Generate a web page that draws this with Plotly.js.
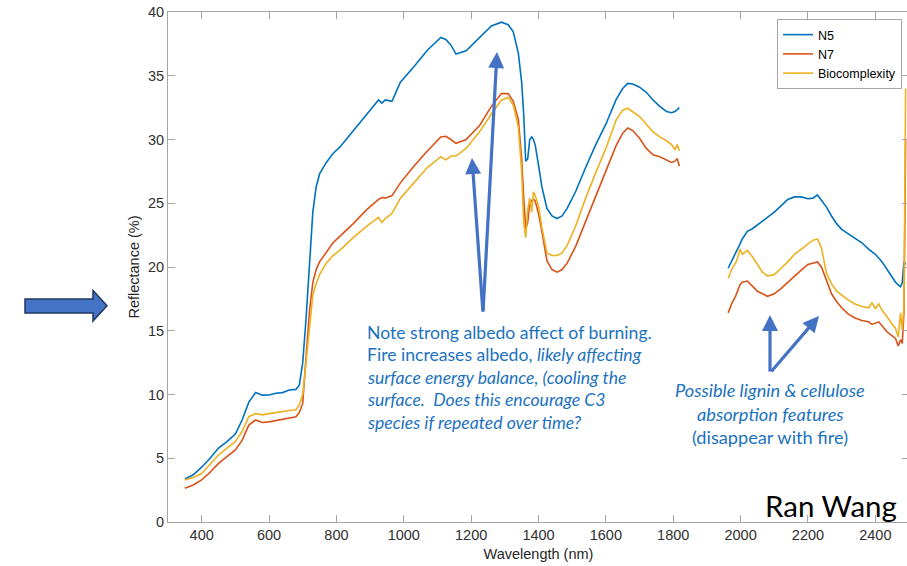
<!DOCTYPE html>
<html>
<head>
<meta charset="utf-8">
<script src="https://cdn.plot.ly/plotly-3.0.1.min.js"></script>
<style>
html,body{margin:0;padding:0;overflow:hidden;background:#fff;}
#chart{width:912px;height:566px;}
</style>
</head>
<body>
<div id="chart"></div>
<script>
const wavelength = [350,375,400,425,450,475,500,520,540,560,580,600,620,640,660,680,690,700,710,720,730,740,750,770,790,810,850,890,925,935,945,965,990,1030,1070,1110,1125,1140,1155,1185,1225,1260,1290,1310,1325,1340,1350,1356,1362,1368,1374,1380,1385,1390,1400,1410,1425,1440,1455,1470,1485,1510,1540,1570,1600,1630,1650,1665,1680,1700,1720,1740,1760,1780,1795,1805,1812,1818,1890,1963,1975,1985,1990,1998,2005,2020,2035,2050,2065,2080,2100,2120,2140,2160,2180,2200,2215,2228,2240,2255,2270,2285,2300,2320,2340,2360,2380,2390,2400,2410,2420,2435,2450,2460,2468,2475,2480,2485,2490];

const n5 = [3.37,3.7,4.3,5.0,5.8,6.3,6.9,8.0,9.4,10.15,9.95,9.96,10.1,10.15,10.35,10.4,10.75,12.5,16.0,20.3,24.3,26.3,27.3,28.2,28.9,29.4,30.7,32.05,33.1,32.85,33.1,33.0,34.5,35.7,37.0,38.0,37.85,37.4,36.7,36.96,37.96,38.9,39.2,39.0,38.45,36.8,34.5,32.0,28.3,28.5,30.0,30.2,30.0,29.6,28.0,26.3,24.6,24.0,23.8,24.0,24.6,25.9,27.8,29.6,31.2,33.1,34.0,34.4,34.35,34.1,33.7,33.1,32.6,32.2,32.1,32.2,32.35,32.5,null,19.9,20.6,21.1,21.4,21.8,22.2,22.8,23.0,23.3,23.6,23.9,24.3,24.8,25.3,25.5,25.5,25.35,25.4,25.65,25.2,24.7,24.0,23.4,22.95,22.6,22.2,21.9,21.4,21.2,21.0,20.7,20.4,19.8,19.2,18.8,18.6,18.45,18.8,20.4,20.2];

const n7 = [2.64,2.9,3.3,3.9,4.6,5.1,5.65,6.4,7.6,8.0,7.8,7.85,7.95,8.1,8.2,8.26,8.6,9.3,13.0,16.5,18.8,19.8,20.4,21.2,21.9,22.4,23.4,24.5,25.3,25.45,25.4,25.6,26.6,27.9,29.1,30.2,30.25,30.0,29.7,30.0,31.1,32.6,33.6,33.6,33.0,31.6,28.5,25.5,23.0,23.5,25.0,25.2,25.3,25.2,24.2,22.8,20.5,19.8,19.6,19.8,20.3,21.6,23.6,25.6,27.5,29.5,30.5,30.9,30.7,30.1,29.3,28.8,28.65,28.4,28.2,28.3,28.5,27.9,null,16.4,17.2,17.7,18.0,18.6,18.8,18.9,18.5,18.1,17.9,17.7,17.9,18.3,18.8,19.3,19.75,20.2,20.3,20.4,20.0,19.0,17.9,17.3,16.8,16.3,16.0,15.8,15.7,15.5,15.6,15.7,15.4,14.9,14.6,14.4,13.8,14.3,14.0,16.5,30.0];

const bio = [3.3,3.5,3.8,4.5,5.25,5.8,6.3,7.1,8.26,8.5,8.4,8.5,8.6,8.7,8.75,8.8,9.2,10.0,12.5,15.5,17.8,18.7,19.4,20.3,20.9,21.3,22.3,23.2,23.9,23.5,23.8,24.2,25.4,26.6,27.8,28.65,28.4,28.7,28.7,29.3,30.6,32.0,33.1,33.3,32.7,31.0,27.5,23.5,22.3,24.5,25.4,24.3,25.9,25.6,24.8,23.1,21.1,20.9,20.9,21.1,21.7,23.2,25.4,27.4,29.3,31.5,32.3,32.45,32.2,31.8,31.2,30.6,30.2,29.9,29.6,29.2,29.6,29.1,null,19.1,19.9,20.3,20.6,21.4,21.0,21.3,20.8,20.2,19.6,19.3,19.4,19.9,20.4,21.0,21.4,21.8,22.1,22.2,21.5,19.5,18.7,18.1,17.8,17.4,17.1,16.9,16.8,17.2,16.75,17.1,16.6,16.1,15.5,15.2,14.5,16.4,15.0,17.0,34.0];

const seriesNames = ['N5','N7','Biocomplexity'];
const seriesColors = ['#0072BD','#D95319','#EDB120'];
const xTicks = [400,600,800,1000,1200,1400,1600,1800,2000,2200,2400];
const yTicks = [0,5,10,15,20,25,30,35,40];

const noteLines = [
  'Note strong albedo affect of burning.',
  'Fire increases albedo, <i>likely affecting</i>',
  '<i>surface energy balance, (cooling the</i>',
  '<i>surface.  Does this encourage C3</i>',
  '<i>species if repeated over time?</i>'
];
const ligninLines = [
  '<i>Possible lignin &amp; cellulose</i>',
  '<i>absorption features</i>',
  '(disappear with fire)'
];

// pixel helpers for layout placement (plot area 168..909 x 12..522)
const L = 168, R = 909, T = 12, B = 522;
const px = v => (v - L) / (R - L);
const py = v => (B - v) / (B - T);

const traces = [n5, n7, bio].map((vals, i) => ({
  type: 'scatter', mode: 'lines', x: wavelength, y: vals,
  name: seriesNames[i], connectgaps: false,
  line: {color: seriesColors[i], width: 1.6}
}));

const fam = 'Lato, "Open Sans", sans-serif';
const annColor = '#1B72C0';
const annotations = [];
noteLines.forEach((t, i) => annotations.push({
  xref: 'paper', yref: 'paper', x: px(365), y: py(332 + i * 22.6),
  xanchor: 'left', yanchor: 'middle', text: t, showarrow: false,
  font: {family: fam, size: 17.6, color: annColor}
}));
ligninLines.forEach((t, i) => annotations.push({
  xref: 'paper', yref: 'paper', x: px(770), y: py(390 + i * 23.5),
  xanchor: 'center', yanchor: 'middle', text: t, showarrow: false,
  font: {family: fam, size: 18.2, color: annColor}
}));
annotations.push({
  xref: 'paper', yref: 'paper', x: px(831), y: py(505),
  xanchor: 'center', yanchor: 'middle', text: 'Ran Wang', showarrow: false,
  font: {family: fam, size: 29.5, color: '#000'}
});
// blue arrows
const arrowSpec = [
  {tip: [497, 52], tail: [483, 313]},
  {tip: [472, 158], tail: [483, 313]},
  {tip: [770, 315], tail: [770, 373]},
  {tip: [819, 316], tail: [770, 373]}
];
arrowSpec.forEach(a => annotations.push({
  xref: 'paper', yref: 'paper', x: px(a.tip[0]), y: py(a.tip[1]),
  ax: a.tail[0] - a.tip[0], ay: a.tail[1] - a.tip[1],
  text: '', showarrow: true, arrowhead: 2, arrowsize: 1, arrowwidth: 3.2,
  arrowcolor: '#4472C4'
}));

const arrowPts = [[25,299],[93,299],[93,290.5],[107,305.7],[93,321],[93,313],[25,313]];
const pathStr = arrowPts.map((p, i) => (i ? 'L' : 'M') + px(p[0]).toFixed(5) + ',' + py(p[1]).toFixed(5)).join(' ') + ' Z';

const axisCommon = {
  showline: true, linecolor: '#a6a6a6', linewidth: 1, mirror: 'ticks',
  ticks: 'inside', ticklen: 7, tickcolor: '#a6a6a6', tickwidth: 1,
  showgrid: false, zeroline: false,
  tickfont: {family: '"Liberation Sans", Arial, sans-serif', size: 14.5, color: '#303030'}
};

const layout = {
  width: 912, height: 566,
  margin: {l: L, r: 912 - R, t: T, b: 566 - B},
  paper_bgcolor: '#fff', plot_bgcolor: '#fff',
  showlegend: true,
  legend: {
    x: px(902), y: py(19), xanchor: 'right', yanchor: 'top',
    bgcolor: '#fff', bordercolor: '#a6a6a6', borderwidth: 1,
    font: {family: '"Liberation Sans", Arial, sans-serif', size: 12.5, color: '#000'},
    tracegroupgap: 0, itemwidth: 30
  },
  xaxis: Object.assign({}, axisCommon, {
    range: [300, 2500], tickvals: xTicks, ticktext: xTicks.map(String),
    title: {text: 'Wavelength (nm)', standoff: 6,
      font: {family: '"Liberation Sans", Arial, sans-serif', size: 14.5, color: '#262626'}}
  }),
  yaxis: Object.assign({}, axisCommon, {
    range: [0, 40], tickvals: yTicks, ticktext: yTicks.map(String),
    title: {text: 'Reflectance (%)', standoff: 4,
      font: {family: '"Liberation Sans", Arial, sans-serif', size: 14.5, color: '#262626'}}
  }),
  annotations: annotations,
  shapes: [{
    type: 'path', xref: 'paper', yref: 'paper', path: pathStr,
    fillcolor: '#4472C4', line: {color: '#1F3864', width: 1.5}, layer: 'above'
  }]
};

Plotly.newPlot('chart', traces, layout, {staticPlot: true, displayModeBar: false});
</script>
</body>
</html>
